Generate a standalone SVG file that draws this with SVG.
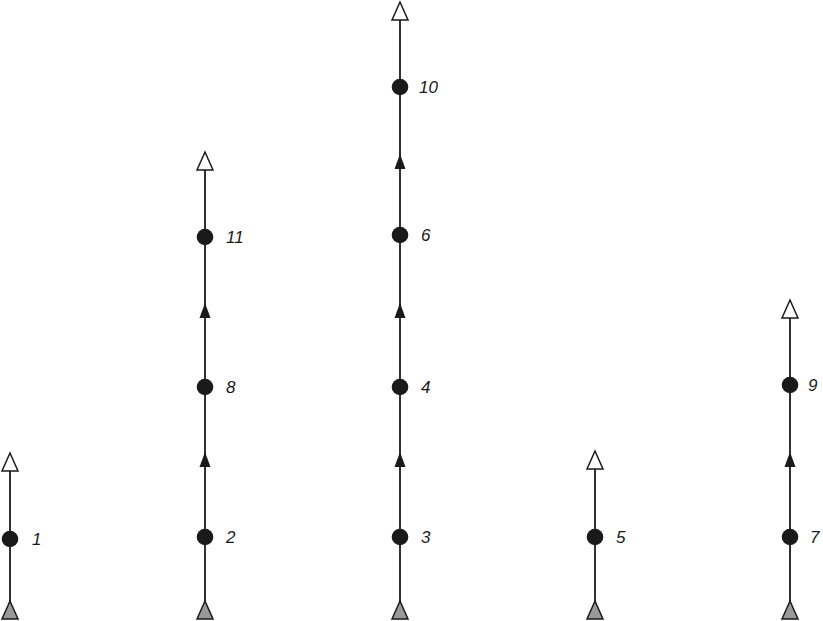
<svg xmlns="http://www.w3.org/2000/svg" width="823" height="621" viewBox="0 0 823 621">
<style>
.ln{stroke:#1a1a1a;stroke-width:1.8;fill:none}
.open{fill:#fff;stroke:#1a1a1a;stroke-width:1.5;stroke-linejoin:miter}
.src{fill:#999;stroke:#1a1a1a;stroke-width:1.5}
.mid{fill:#1a1a1a;stroke:none}
.dot{fill:#1a1a1a}
.lbl{font-family:"Liberation Sans",Arial,sans-serif;font-style:italic;font-size:17px;fill:#1a1a1a}
</style>
<defs>
<polygon id="topTri" points="0,0 -8,18 8,18"/>
<polygon id="botTri" points="0,0 -8,18 8,18"/>
<polygon id="midTri" points="0,0 -5.5,15 5.5,15"/>
</defs>
<g id="connectors">
<line class="ln" x1="10" y1="619" x2="10" y2="471"/>
<line class="ln" x1="205" y1="619" x2="205" y2="170"/>
<line class="ln" x1="400" y1="619" x2="400" y2="20"/>
<line class="ln" x1="595" y1="619" x2="595" y2="469"/>
<line class="ln" x1="790" y1="619" x2="790" y2="318"/>
<use href="#midTri" class="mid" x="205" y="452"/>
<use href="#midTri" class="mid" x="205" y="303"/>
<use href="#midTri" class="mid" x="400" y="452"/>
<use href="#midTri" class="mid" x="400" y="303"/>
<use href="#midTri" class="mid" x="400" y="154"/>
<use href="#midTri" class="mid" x="790" y="452"/>
<use href="#topTri" class="open" x="10" y="453"/>
<use href="#topTri" class="open" x="205" y="152"/>
<use href="#topTri" class="open" x="400" y="2"/>
<use href="#topTri" class="open" x="595" y="451"/>
<use href="#topTri" class="open" x="790" y="300"/>
<use href="#botTri" class="src" x="10" y="601"/>
<use href="#botTri" class="src" x="205" y="601"/>
<use href="#botTri" class="src" x="400" y="601"/>
<use href="#botTri" class="src" x="595" y="601"/>
<use href="#botTri" class="src" x="790" y="601"/>
</g>
<g id="n1"><circle class="dot" cx="10" cy="539" r="8.3"/><text class="lbl" x="32" y="545">1</text></g>
<g id="n2"><circle class="dot" cx="205" cy="537" r="8.3"/><text class="lbl" x="226" y="543">2</text></g>
<g id="n8"><circle class="dot" cx="205" cy="387" r="8.3"/><text class="lbl" x="226" y="393">8</text></g>
<g id="n11"><circle class="dot" cx="205" cy="237" r="8.3"/><text class="lbl" x="226" y="243">11</text></g>
<g id="n3"><circle class="dot" cx="400" cy="537" r="8.3"/><text class="lbl" x="421" y="543">3</text></g>
<g id="n4"><circle class="dot" cx="400" cy="387" r="8.3"/><text class="lbl" x="421" y="393">4</text></g>
<g id="n6"><circle class="dot" cx="400" cy="235" r="8.3"/><text class="lbl" x="421" y="241">6</text></g>
<g id="n10"><circle class="dot" cx="400" cy="87" r="8.3"/><text class="lbl" x="419" y="93">10</text></g>
<g id="n5"><circle class="dot" cx="595" cy="537" r="8.3"/><text class="lbl" x="616" y="543">5</text></g>
<g id="n7"><circle class="dot" cx="790" cy="537" r="8.3"/><text class="lbl" x="810" y="543">7</text></g>
<g id="n9"><circle class="dot" cx="790" cy="385" r="8.3"/><text class="lbl" x="808" y="391">9</text></g>
</svg>
